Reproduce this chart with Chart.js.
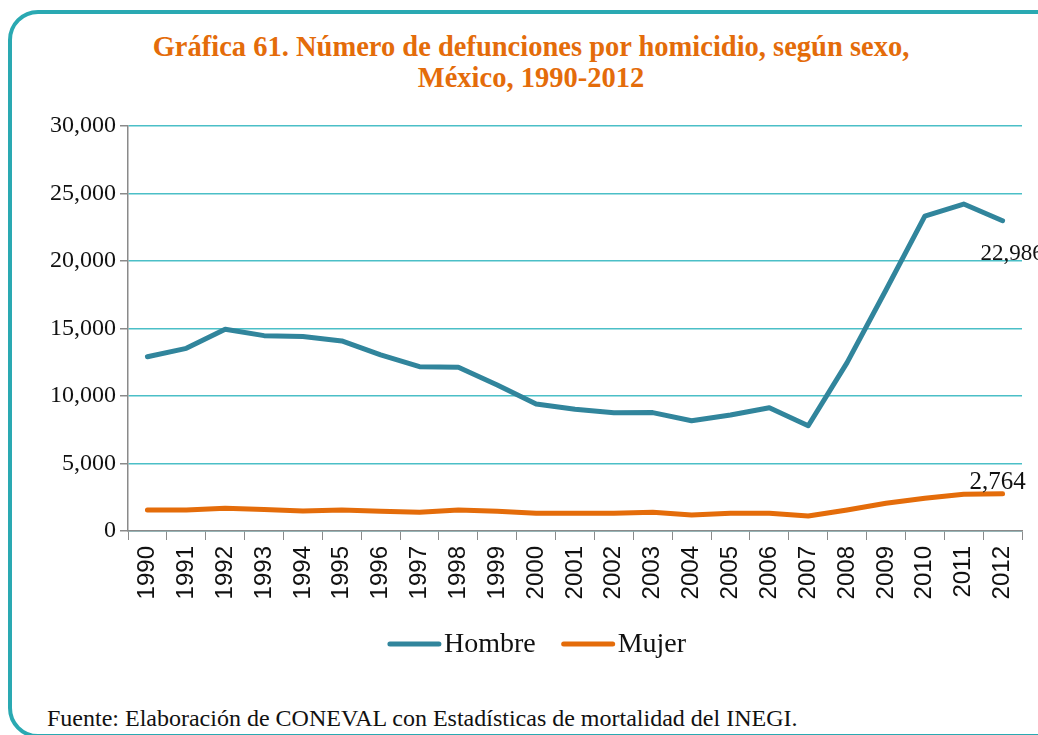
<!DOCTYPE html>
<html>
<head>
<meta charset="utf-8">
<script src="https://cdn.jsdelivr.net/npm/chart.js@4.4.1/dist/chart.umd.min.js"></script>
<style>
  html, body { margin: 0; padding: 0; background: #fff; }
  body { width: 1038px; height: 735px; position: relative; overflow: hidden; }
  .frame {
    position: absolute; left: 8px; top: 10px; width: 1090px; height: 728px;
    border: 4px solid #2aa9b2; border-radius: 30px; box-sizing: border-box;
  }
  .title {
    position: absolute; left: 0; top: 31px; width: 1062px; text-align: center;
    font-family: "Liberation Serif", serif; font-weight: bold; font-size: 28.5px;
    line-height: 31px; color: #e46c0a;
  }
  .source {
    position: absolute; left: 47px; top: 705px;
    font-family: "Liberation Serif", serif; font-size: 24px; color: #111;
  }
  #chart { position: absolute; left: 0; top: 100px; }
</style>
</head>
<body>
<div class="frame"></div>
<div class="title">Gráfica 61. Número de defunciones por homicidio, según sexo,<br>México, 1990-2012</div>
<canvas id="chart" width="1038" height="570"></canvas>
<div class="source">Fuente: Elaboración de CONEVAL con Estadísticas de mortalidad del INEGI.</div>
<script>
// Homicide deaths in Mexico by sex, 1990-2012
const years = ['1990','1991','1992','1993','1994','1995','1996','1997','1998','1999','2000','2001',
               '2002','2003','2004','2005','2006','2007','2008','2009','2010','2011','2012'];
const hombre = [12910, 13530, 14940, 14470, 14400, 14080, 13040, 12170, 12130, 10820, 9410, 9020,
                8760, 8770, 8170, 8590, 9130, 7800, 12470, 17850, 23330, 24220, 22986];
const mujer = [1555, 1555, 1680, 1600, 1480, 1555, 1460, 1385, 1555, 1460, 1310, 1310,
               1310, 1385, 1185, 1310, 1310, 1110, 1555, 2050, 2420, 2715, 2764];
const yTicks = [0, 5000, 10000, 15000, 20000, 25000, 30000];

const BLUE = '#31859c';
const ORANGE = '#e46c0a';
const GRID = '#4bbfc7';
const AXIS = '#8a8a8a';
const SERIF = '"Liberation Serif", serif';
const SANS = '"Liberation Sans", Arial, sans-serif';

const fmt = v => v.toLocaleString('en-US');

// Value labels on the last point of each series
const endLabels = {
  id: 'endLabels',
  afterDatasetsDraw(chart) {
    const ctx = chart.ctx;
    ctx.save();
    ctx.fillStyle = '#111';
    ctx.textBaseline = 'middle';
    chart.data.datasets.forEach((ds, i) => {
      const meta = chart.getDatasetMeta(i);
      const last = meta.data[meta.data.length - 1];
      const v = ds.data[ds.data.length - 1];
      if (i === 0) {
        ctx.font = '23px ' + SERIF;
        ctx.textAlign = 'left';
        ctx.fillText(fmt(v), last.x - 22, last.y + 33);
      } else {
        ctx.font = '25px ' + SERIF;
        ctx.textAlign = 'center';
        ctx.fillText(fmt(v), last.x - 5, last.y - 11);
      }
    });
    ctx.restore();
  }
};

// Line-sample legend under the plot, text set tight against each sample
const lineLegend = {
  id: 'lineLegend',
  afterDraw(chart) {
    const ctx = chart.ctx;
    const sample = 53, gapText = 3, gapItem = 26;
    ctx.save();
    ctx.font = '28px ' + SERIF;
    const items = chart.data.datasets.map(ds => ({
      label: ds.label, color: ds.borderColor, w: ctx.measureText(ds.label).width
    }));
    const total = items.reduce((a, it) => a + sample + gapText + it.w, 0) + gapItem * (items.length - 1);
    const cx = (chart.chartArea.left + chart.chartArea.right) / 2 - 38;
    const y = chart.chartArea.bottom + 113;
    let x = cx - total / 2;
    ctx.textBaseline = 'middle';
    ctx.textAlign = 'left';
    items.forEach(it => {
      ctx.strokeStyle = it.color;
      ctx.lineWidth = 5;
      ctx.lineCap = 'round';
      ctx.beginPath();
      ctx.moveTo(x + 2, y);
      ctx.lineTo(x + sample - 2, y);
      ctx.stroke();
      ctx.fillStyle = '#111';
      ctx.fillText(it.label, x + sample + gapText, y + 1);
      x += sample + gapText + it.w + gapItem;
    });
    ctx.restore();
  }
};

new Chart(document.getElementById('chart'), {
  type: 'line',
  data: {
    labels: years,
    datasets: [
      { label: 'Hombre', data: hombre, borderColor: BLUE, backgroundColor: BLUE,
        borderWidth: 5, pointRadius: 0, tension: 0, borderJoinStyle: 'round', borderCapStyle: 'round' },
      { label: 'Mujer', data: mujer, borderColor: ORANGE, backgroundColor: ORANGE,
        borderWidth: 5, pointRadius: 0, tension: 0, borderJoinStyle: 'round', borderCapStyle: 'round' }
    ]
  },
  options: {
    responsive: false,
    animation: false,
    layout: { padding: { left: 0, right: 16, top: 26, bottom: 46 } },
    plugins: {
      tooltip: { enabled: false },
      legend: { display: false }
    },
    scales: {
      x: {
        offset: true,
        afterFit(s) { s.height = 93; },
        grid: { display: true, drawOnChartArea: false, drawTicks: true, tickLength: 9,
                offset: true, color: AXIS, tickColor: AXIS },
        border: { display: true, color: AXIS, width: 1.5 },
        ticks: { minRotation: 90, maxRotation: 90, autoSkip: false, padding: 6,
                 font: { family: SANS, size: 24 }, color: '#111' }
      },
      y: {
        min: 0, max: 30000,
        afterFit(s) { s.width = 128; },
        afterBuildTicks(s) { s.ticks = yTicks.map(v => ({ value: v })); },
        grid: { color: GRID, lineWidth: 1.5, tickLength: 8, tickColor: AXIS },
        border: { display: true, color: AXIS, width: 1.5 },
        ticks: { padding: 4, font: { family: SERIF, size: 24 }, color: '#111', callback: v => fmt(v) }
      }
    }
  },
  plugins: [endLabels, lineLegend]
});
</script>
</body>
</html>
